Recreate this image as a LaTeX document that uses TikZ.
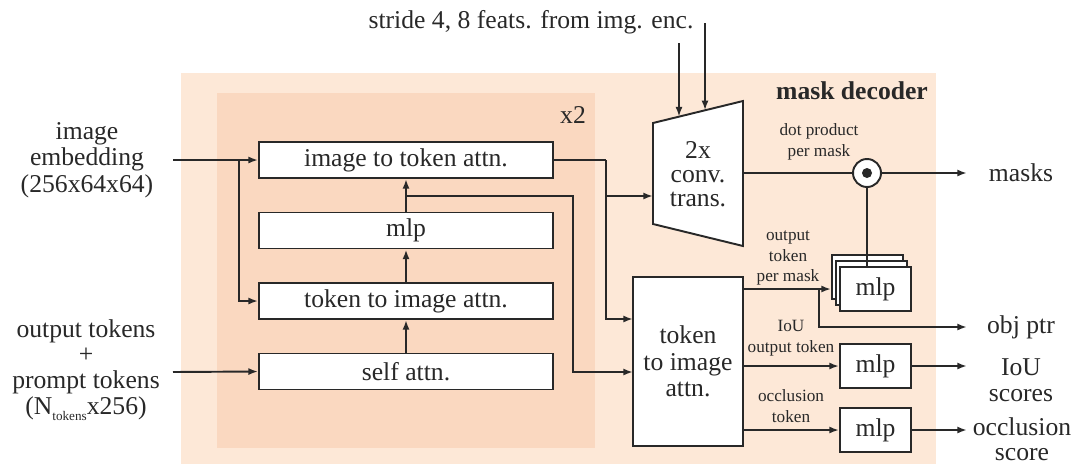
\documentclass[tikz,border=0pt]{standalone}
\usepackage{fontspec}
\setmainfont{Liberation Serif}
\usetikzlibrary{arrows.meta,calc}
\definecolor{outerc}{RGB}{253,232,215}
\definecolor{innerc}{RGB}{250,216,192}
\definecolor{ink}{RGB}{40,40,40}
\tikzset{
 blk/.style={draw=ink, fill=white, line width=1.1pt, inner sep=0pt, align=center, text=ink, font=\fontsize{14.6}{15}\selectfont},
 lbl/.style={inner sep=0pt, align=center, text=ink, font=\fontsize{14.6}{15}\selectfont},
 sml/.style={inner sep=0pt, align=center, text=ink, font=\fontsize{9.8}{11.8}\selectfont},
 con/.style={draw=ink, line width=1.1pt},
 arr/.style={con, -{Latex[length=5.5pt,width=4pt]}},
 wide/.style={minimum width=5.88cm, minimum height=0.72cm},
 small/.style={minimum width=1.42cm, minimum height=0.87cm},
}
\begin{document}
\begin{tikzpicture}[x=0.02cm,y=-0.02cm]
\useasboundingbox (0,0) rectangle (1075,464);
% panels
\fill[outerc] (181,73) rectangle (936,464);
\fill[innerc] (217,93) rectangle (595,448);
\node[lbl] (x2) at (573,115) {x2};
\node[lbl, font=\fontsize{14.6}{15}\selectfont\bfseries] (title) at (852,91) {mask decoder};
\node[lbl] (stride) at (531,22) {stride 4, 8 feats. from img. enc.};

% left blocks
\node[blk, wide] (itt) at (406,160) {image to token attn.};
\node[blk, wide] (mlp) at (406,230.5) {mlp};
\node[blk, wide] (t2i) at (406,301) {token to image attn.};
\node[blk, wide] (self) at (406,371.5) {self attn.};

% big token to image attn
\node[blk, minimum width=2.2cm, minimum height=3.38cm] (big) at (688,361.5) {token\\to image\\attn.};

% conv trans
\draw[con, fill=white] (653,123) -- (743,101) -- (743,246) -- (653,224) -- cycle;
\node[lbl, font=\fontsize{14.6}{13.7}\selectfont] (conv) at (698,174) {2x\\conv.\\trans.};
\coordinate (convin) at (653,196);
\coordinate (convout) at (743,173);
\coordinate (convtopA) at (679,116.6);
\coordinate (convtopB) at (705,110.3);
\coordinate (s1) at (679,43);
\coordinate (s2) at (705,23);
\draw[arr] (s1) -- (convtopA);
\draw[arr] (s2) -- (convtopB);

% dot product
\node[draw=ink, fill=white, circle, line width=1.1pt, minimum size=0.56cm, inner sep=0pt] (dot) at (867,173) {};
\fill[ink] (dot.center) circle (0.1cm);
\node[sml] (dotlbl) at (819,142) {dot product\\per mask};

% stacked mlps
\node[blk, small] (mlpc) at (867.5,277) {};
\node[blk, small] (mlpb) at (871.5,283) {};
\node[blk, small] (mlpa) at (875.5,289) {mlp};
\node[blk, small] (iou) at (875.5,366) {mlp};
\node[blk, small] (occ) at (875.5,430) {mlp};

% left labels
\node[lbl] (emb) at (87,160) {image\\embedding\\(256x64x64)};
\node[lbl, font=\fontsize{14.6}{14.6}\selectfont] (tok) at (86,370) {output tokens\\+\\prompt tokens\\(N\raisebox{-3.5pt}{\fontsize{7.5}{8}\selectfont tokens}x256)};
\coordinate (embout) at (173,160);
\coordinate (tokout) at (173,372);

% right labels
\node[lbl] (masks) at (1021,173) {masks};
\node[lbl] (objptr) at (1021,327) {obj ptr};
\node[lbl] (ious) at (1021,380) {IoU\\scores};
\node[lbl, font=\fontsize{14.6}{14.2}\selectfont] (occs) at (1022,439) {occlusion\\score};
\node[sml] (otl) at (788,258) {output\\token\\per mask};
\node[sml] (ioul) at (791,338) {IoU\\output token};
\node[sml] (occl) at (791,406) {occlusion\\token};
\coordinate (o1) at (967,173);
\coordinate (o2) at (967,327);
\coordinate (o3) at (967,366);
\coordinate (o4) at (967,430);

% connectors left
\draw[arr] (embout) -- (itt.west);
\coordinate (br1) at (239,160);
\draw[arr] (br1) |- (t2i.west);
\draw[arr] (tokout) -- (self.west);
\draw[arr] (self.north) -- (t2i.south);
\draw[arr] (t2i.north) -- (mlp.south);
\draw[arr] (mlp.north) -- (itt.south);

\coordinate (j1) at (606,160);
\coordinate (bigA) at (633,319);
\draw[con] (itt.east) -- (j1);
\draw[arr] (j1) |- (bigA);
\draw[arr] (j1 |- convin) -- (convin);
\coordinate (j2) at (406,196);
\coordinate (bigB) at (633,372);
\draw[arr] (j2) -- ++(167,0) |- (bigB);

% connectors right
\draw[con] (convout) -- (dot.west);
\draw[arr] (dot.east) -- (o1);
\draw[con] (dot.south) -- (dot |- mlpa.north);
\draw[arr] (big.east |- mlpa) -- (mlpc.west |- mlpa);
\coordinate (j3) at (819,289);
\draw[arr] (j3) |- (o2);
\draw[arr] (big.east |- iou) -- (iou.west);
\draw[arr] (iou.east) -- (o3);
\draw[arr] (big.east |- occ) -- (occ.west);
\draw[arr] (occ.east) -- (o4);
\end{tikzpicture}
\end{document}
